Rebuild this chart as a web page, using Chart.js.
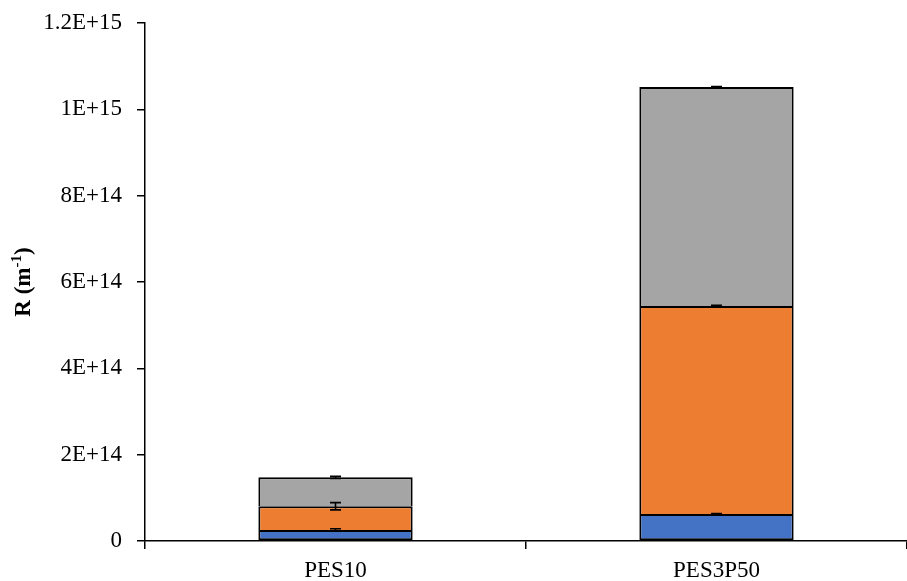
<!DOCTYPE html>
<html>
<head>
<meta charset="utf-8">
<script src="https://cdn.jsdelivr.net/npm/chart.js@4"></script>
<style>
  body { margin: 0; background: #fff; }
  #wrap { width: 907px; height: 581px; }
</style>
</head>
<body>
<div id="wrap"><canvas id="chart"></canvas></div>
<script>
const categories = ['PES10', 'PES3P50'];

// stacked resistance parts (m-1)
const series1 = [2.55e13, 6.26e13];
const series2 = [5.5e13, 4.82e14];
const series3 = [6.7e13, 5.07e14];

// error bar half-heights for each part
const series1Err = [3e12, 1e12];
const series2Err = [8.5e12, 1.5e12];
const series3Err = [2.5e12, 1e12];

const yTickLabels = ['0', '2E+14', '4E+14', '6E+14', '8E+14', '1E+15', '1.2E+15'];

const serif = 'Liberation Serif';

// error bars at the top of each stacked segment
const errorBars = {
    id: 'errorBars',
    afterDatasetsDraw(chart) {
        const ctx = chart.ctx;
        const y = chart.scales.y;
        const errs = chart.data.datasets.map(d => d.err);
        ctx.save();
        ctx.strokeStyle = '#000';
        ctx.lineWidth = 1.6;
        categories.forEach((c, j) => {
            let cum = 0;
            chart.data.datasets.forEach((ds, i) => {
                cum += ds.data[j];
                const x = chart.getDatasetMeta(i).data[j].x;
                const e = errs[i][j];
                const y1 = y.getPixelForValue(cum + e);
                const y2 = y.getPixelForValue(cum - e);
                ctx.beginPath();
                ctx.moveTo(x, y1); ctx.lineTo(x, y2);
                ctx.moveTo(x - 5.5, y1); ctx.lineTo(x + 5.5, y1);
                ctx.moveTo(x - 5.5, y2); ctx.lineTo(x + 5.5, y2);
                ctx.stroke();
            });
        });
        ctx.restore();
    }
};

// rotated y title with superscript
const yTitle = {
    id: 'yTitle',
    afterDraw(chart) {
        const ctx = chart.ctx;
        const a = chart.chartArea;
        const main = 'R (m';
        const sup = '-1';
        const end = ')';
        ctx.save();
        ctx.translate(30, (a.top + a.bottom) / 2);
        ctx.rotate(-Math.PI / 2);
        ctx.fillStyle = '#000';
        ctx.textBaseline = 'alphabetic';
        ctx.font = 'bold 23px "' + serif + '"';
        const w1 = ctx.measureText(main).width;
        const w3 = ctx.measureText(end).width;
        ctx.font = 'bold 15px "' + serif + '"';
        const w2 = ctx.measureText(sup).width;
        let x = -(w1 + w2 + w3) / 2;
        ctx.font = 'bold 23px "' + serif + '"';
        ctx.fillText(main, x, 0);
        x += w1;
        ctx.font = 'bold 15px "' + serif + '"';
        ctx.fillText(sup, x, -9);
        x += w2;
        ctx.font = 'bold 23px "' + serif + '"';
        ctx.fillText(end, x, 0);
        ctx.restore();
    }
};

const chart = document.querySelector('#chart').getContext('2d');

// upper segments skip their bottom edge so shared edges stay single width
new Chart(chart, {
    type: 'bar',
    data: {
        labels: categories,
        datasets: [
            { label: 'Series1', data: series1, err: series1Err, backgroundColor: '#4472C4', borderSkipped: false },
            { label: 'Series2', data: series2, err: series2Err, backgroundColor: '#ED7D31', borderSkipped: 'bottom' },
            { label: 'Series3', data: series3, err: series3Err, backgroundColor: '#A5A5A5', borderSkipped: 'bottom' }
        ].map(d => Object.assign(d, {
            borderColor: '#000',
            borderWidth: 2,
            categoryPercentage: 1,
            barPercentage: 0.405
        }))
    },
    options: {
        responsive: true,
        maintainAspectRatio: false,
        animation: false,
        layout: { padding: { top: 23, right: 0, left: 0, bottom: 0 } },
        plugins: {
            legend: { display: false },
            tooltip: { enabled: false }
        },
        scales: {
            x: {
                stacked: true,
                offset: true,
                grid: {
                    offset: true,
                    drawOnChartArea: false,
                    tickLength: 8,
                    color: '#000',
                    lineWidth: 1.5
                },
                border: { color: '#000', width: 1.5 },
                ticks: {
                    color: '#000',
                    padding: 8,
                    font: { family: serif, size: 23 }
                },
                afterFit(scale) {
                    scale.height = 40;
                    scale.paddingLeft = 0;
                    scale.paddingRight = 0;
                }
            },
            y: {
                stacked: true,
                min: 0,
                max: 1.2e15,
                grid: {
                    drawOnChartArea: false,
                    tickLength: 8,
                    color: '#000',
                    lineWidth: 1.5
                },
                border: { color: '#000', width: 1.5 },
                ticks: {
                    stepSize: 2e14,
                    color: '#000',
                    padding: 15,
                    font: { family: serif, size: 23 },
                    callback: (v, i) => yTickLabels[i]
                },
                afterFit(scale) {
                    scale.width = 145;
                    scale.paddingTop = 0;
                    scale.paddingBottom = 0;
                }
            }
        }
    },
    plugins: [errorBars, yTitle]
});
</script>
</body>
</html>
